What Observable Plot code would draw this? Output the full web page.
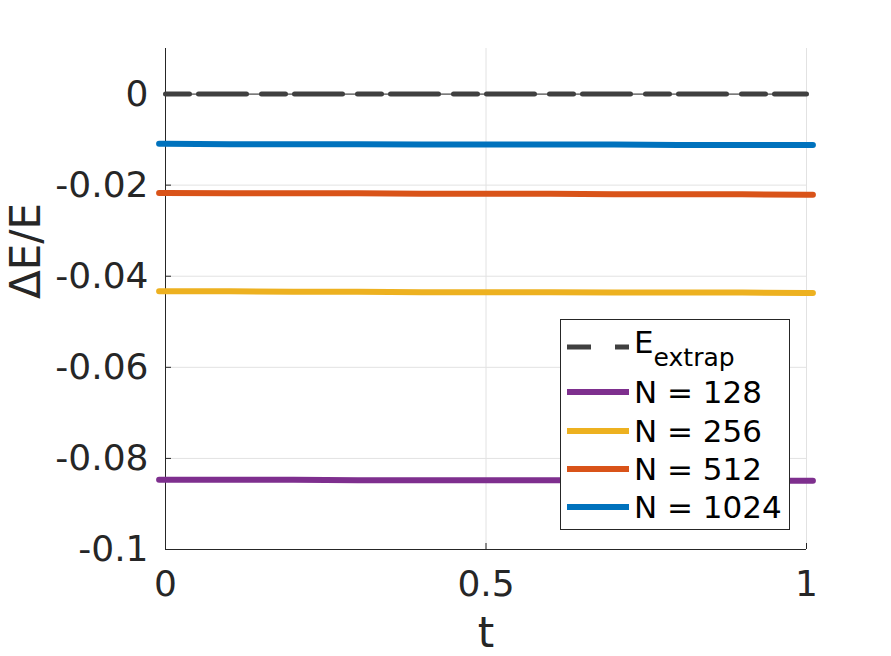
<!DOCTYPE html>
<html>
<head>
<meta charset="utf-8">
<script src="https://cdn.jsdelivr.net/npm/d3@7"></script>
<script src="https://cdn.jsdelivr.net/npm/@observablehq/plot@0.6"></script>
<style>
  html, body { margin: 0; padding: 0; background: #fff; }
  svg { display: block; }
</style>
</head>
<body>
<div id="chart"></div>
<script>
// ---- data ----
const tValues = [-0.01, 0, 0.1, 0.2, 0.3, 0.4, 0.5, 0.6, 0.7, 0.8, 0.9, 1.0, 1.01];
const tExtrap = [0, 0.1, 0.2, 0.3, 0.4, 0.5, 0.6, 0.7, 0.8, 0.9, 1.0];
const extrapValues = [0, 0, 0, 0, 0, 0, 0, 0, 0, 0, 0];
const n128Values  = [-0.0847, -0.0847, -0.0847, -0.0847, -0.0848, -0.0848, -0.0848, -0.0848, -0.0848, -0.0849, -0.0849, -0.0849, -0.0849];
const n256Values  = [-0.0433, -0.0433, -0.0433, -0.0434, -0.0434, -0.0435, -0.0435, -0.0435, -0.0436, -0.0436, -0.0436, -0.0437, -0.0437];
const n512Values  = [-0.0217, -0.0217, -0.0218, -0.0218, -0.0218, -0.0219, -0.0219, -0.0219, -0.0220, -0.0220, -0.0220, -0.0221, -0.0221];
const n1024Values = [-0.0109, -0.0109, -0.0110, -0.0110, -0.0110, -0.0111, -0.0111, -0.0111, -0.0111, -0.0112, -0.0112, -0.0112, -0.0112];
const seriesNames = ["N = 128", "N = 256", "N = 512", "N = 1024"];
const yTicks = [0, -0.02, -0.04, -0.06, -0.08, -0.1];
const xTicks = [0, 0.5, 1];
const xGridTicks = [0.5, 1];

// ---- styles ----
const seriesColors = ["#7E2F8E", "#EDB120", "#D95319", "#0072BD"];
const extrapColor = "#404040";
const axisColor = "#262626";
const font = "DejaVu Sans";

const seriesValues = [n128Values, n256Values, n512Values, n1024Values];
const seriesRows = seriesValues.map((vals, k) =>
  tValues.map((t, i) => ({t, v: vals[i], s: seriesNames[k]})));
const extrapRows = tExtrap.map((t, i) => ({t, v: extrapValues[i]}));

const fmt = d => d === 0 ? "0" : String(d);

const plot = Plot.plot({
  width: 891,
  height: 656,
  marginLeft: 165,
  marginRight: 85,
  marginTop: 48,
  marginBottom: 107,
  style: {fontFamily: font, background: "white", color: axisColor, overflow: "visible"},
  x: {domain: [0, 1]},
  y: {domain: [-0.1, 0.01]},
  marks: [
    Plot.gridY(yTicks, {stroke: "#e2e2e2", strokeOpacity: 1, strokeWidth: 1}),
    Plot.gridX(xGridTicks, {stroke: "#e2e2e2", strokeOpacity: 1, strokeWidth: 1}),
    Plot.ruleX([0], {stroke: axisColor, strokeWidth: 1}),
    Plot.ruleY([-0.1], {stroke: axisColor, strokeWidth: 1}),
    Plot.axisY(yTicks, {tickSize: 0, tickPadding: 17, fontSize: 36, tickFormat: fmt, label: null, fill: axisColor}),
    Plot.axisY(yTicks, {tickSize: 6, dx: 6, tickFormat: () => "", label: null, stroke: axisColor}),
    Plot.axisX(xTicks, {tickSize: 0, tickPadding: 21, fontSize: 36, tickFormat: fmt, label: null, fill: axisColor}),
    Plot.axisX(xTicks, {tickSize: 6, dy: -6, tickFormat: () => "", label: null, stroke: axisColor}),
    ...seriesRows.map((rows, k) =>
      Plot.line(rows, {x: "t", y: "v", stroke: seriesColors[k], strokeWidth: 6, clip: false})),
    Plot.line(extrapRows, {x: "t", y: "v", stroke: "#555", strokeWidth: 1.2}),
    Plot.line(extrapRows, {x: "t", y: "v", stroke: extrapColor, strokeWidth: 5, strokeDasharray: "24,9,48,15"}),
    Plot.text(["ΔE/E"], {frameAnchor: "left", dx: -139, rotate: -90, fontSize: 42, fill: axisColor}),
    Plot.text(["t"], {frameAnchor: "bottom", dy: 97, fontSize: 42, fill: axisColor})
  ]
});

document.getElementById("chart").appendChild(plot);

// ---- legend drawn inside the axes ----
const svg = d3.select(plot);
const lg = svg.append("g").attr("font-family", font).attr("fill", "#000").attr("text-anchor", "start");
lg.append("rect")
  .attr("x", 560.5).attr("y", 319.5).attr("width", 229).attr("height", 210)
  .attr("fill", "white").attr("stroke", axisColor).attr("stroke-width", 1);
const legendEntries = [
  {label: "E", sub: "extrap", color: extrapColor, dash: "24,24", width: 5},
  ...seriesNames.map((n, k) => ({label: n, color: seriesColors[k], dash: null, width: 6}))
];
const rowY = [347, 392, 431, 469, 507];
legendEntries.forEach((e, i) => {
  const y = rowY[i];
  lg.append("line")
    .attr("x1", 567).attr("x2", 629).attr("y1", y).attr("y2", y)
    .attr("stroke", e.color).attr("stroke-width", e.width)
    .attr("stroke-dasharray", e.dash);
  const txt = lg.append("text")
    .attr("x", 634).attr("y", y)
    .attr("dy", e.sub ? 6 : 11)
    .attr("font-size", 31).attr("fill", "#000").attr("text-anchor", "start");
  txt.append("tspan").text(e.label);
  if (e.sub) {
    txt.append("tspan").attr("font-size", 25).attr("dy", 13).text(e.sub);
  }
});
</script>
</body>
</html>
